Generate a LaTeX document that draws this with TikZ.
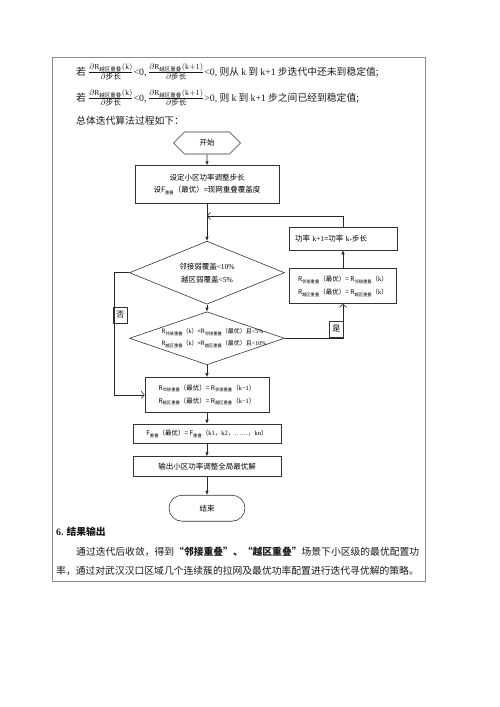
\documentclass[tikz,border=0pt]{standalone}
\usepackage{amsmath}
\usepackage{fontspec}
\setmainfont{Liberation Serif}
\newfontfamily\cjk{Noto Sans CJK SC}
\usetikzlibrary{positioning,shapes,arrows.meta}

\newcommand{\pd}[1]{{\fontsize{11}{12}\selectfont$\frac{\partial\mathrm{R}_{\text{\cjk 越区重叠}}(#1)}{\partial\text{\cjk 步长}}$}}
\newcommand{\zs}[1]{\raisebox{-.5ex}{\fontsize{4.3}{5}\cjk #1}}
\newcommand{\Rz}[1]{\textit{R}\zs{#1}}
\newcommand{\lat}[1]{{\rmfamily #1}}

\begin{document}
\begin{tikzpicture}[x=1pt,y=-1pt]
	\tikzstyle{block} = [rectangle,draw=black!80,line width=0.6pt,font=\fontsize{7.5}{10}\cjk,align=center,inner sep=2pt]
	\tikzstyle{cond} = [diamond,draw=black!80,line width=0.6pt,inner sep=0pt,aspect=2.46]
	\tikzstyle{tag} = [rectangle,draw=black!80,line width=0.5pt,font=\fontsize{8}{9}\cjk,inner sep=1.5pt,minimum width=14pt,minimum height=16pt]
	\tikzstyle{arr} = [draw=black!85,line width=0.6pt,-{Latex[length=4pt,width=3.5pt]}]
	\tikzstyle{oarr} = [draw=black!85,line width=0.6pt,-{Straight Barb[length=3pt,width=7pt]}]
	\tikzstyle{txt} = [anchor=west,inner sep=0pt,text=black!90,font=\fontsize{9.8}{12}\cjk]
	
	\useasboundingbox (0,0) rectangle (500,707);
	\draw[black!45,line width=0.7pt] (52,57) rectangle (425,581);
	
	% text above the chart
	\node[txt] (l1) at (76,72) {若\ \pd{\mathrm{k}}\lat{<0,\,}\pd{\mathrm{k}+1}\lat{<0,} 则从 \lat{k} 到 \lat{k+1} 步迭代中还未到稳定值;};
	\node[txt] (l2) at (76,98) {若\ \pd{\mathrm{k}}\lat{<0,\,}\pd{\mathrm{k}+1}\lat{>0,} 则 \lat{k} 到 \lat{k+1} 步之间已经到稳定值;};
	\node[txt] (l3) at (76,121) {总体迭代算法过程如下：};
	
	% main column
	\node[draw=black!80,line width=0.6pt,signal,signal to=west and east,signal pointer angle=90,minimum width=67pt,minimum height=22pt,font=\fontsize{7.5}{9}\cjk,inner sep=1pt] (st) at (207,143) {开始};
	\node[block,minimum width=144pt,minimum height=38pt,below=11pt of st] (set) {设定小区功率调整步长\\[2pt]设\textit{F}\zs{重叠}（最优）=现网重叠覆盖度};
	\coordinate[below=12pt of set] (jn);
	\node[cond,minimum width=155pt,minimum height=63pt,below=25pt of jn,align=center,font=\fontsize{7.5}{13}\cjk] (d1) {邻接弱覆盖\lat{<10\%}\\越区弱覆盖\lat{<5\%}};
	\node[cond,minimum width=155pt,minimum height=53pt,below=7pt of d1] (d2) {};
	\node[xshift=7pt,font=\fontsize{6}{12}\cjk,align=left,inner sep=0pt] (d2t) at (d2) {\Rz{邻接重叠}（\lat{k}）<\Rz{邻接重叠}（最优）且\lat{<5\%}\\\Rz{越区重叠}（\lat{k}）<\Rz{越区重叠}（最优）且\lat{<10\%}};
	\node[block,minimum width=124pt,minimum height=35pt,below=12pt of d2,font=\fontsize{6.5}{13}\cjk] (keep) {\Rz{邻接重叠}（最优）= \Rz{邻接重叠}（\lat{k−1}）\\\Rz{越区重叠}（最优）= \Rz{越区重叠}（\lat{k−1}）};
	\node[block,minimum width=148pt,minimum height=19pt,below=11pt of keep,font=\fontsize{6.5}{9}\cjk] (fsum) {\textit{F}\zs{重叠}（最优）= \textit{F}\zs{重叠}（\lat{k1}，\lat{k2}，……，\lat{kn}）};
	\node[block,minimum width=148pt,minimum height=20pt,below=13pt of fsum] (out) {输出小区功率调整全局最优解};
	\node[block,rounded corners=13pt,minimum width=76pt,minimum height=26pt,below=18pt of out] (fin) {结束};
	
	% right column
	\node[block,minimum width=108pt,minimum height=23pt,align=left,text width=96pt] (upd) at (343,238.5) {功率 \lat{k+1}=功率 \lat{k-}步长};
	\node[block,minimum width=107pt,minimum height=35pt,below=18pt of upd,font=\fontsize{6.5}{13}\cjk] (keepR) {\Rz{邻接重叠}（最优）= \Rz{邻接重叠}（\lat{k}）\\\Rz{越区重叠}（最优）= \Rz{越区重叠}（\lat{k}）};
	
	\draw[arr] (st) -- (set);
	\draw[line width=0.6pt,black!85] (set) -- (jn);
	\draw[arr] (jn) -- (d1);
	\draw[oarr] (upd) |- (jn);
	\draw[arr] (d1) -- (d2);
	\draw[arr] (d2) -- (keep);
	\coordinate[left=15pt of d1.west] (nob);
	\draw[oarr] (d1.west) -- (nob) |- (keep);
	\draw[oarr] (d2) -| (keepR);
	\draw[arr] (keepR) -- (upd);
	\draw[arr] (keep) -- (fsum);
	\draw[arr] (fsum) -- (out);
	\draw[arr] (out) -- (fin);
	
	\node[tag,anchor=west] (no) at (113,315) {否};
	\node[tag,anchor=south east] (yes) at (343.5,337) {是};
	
	% text below the chart
	\node[txt,font=\fontsize{9.8}{12}\cjk\bfseries] (h6) at (56,532) {\lat{6.} 结果输出};
	\node[txt] (p1) at (76,552) {通过迭代后收敛，得到{\bfseries“邻接重叠”、“越区重叠”}场景下小区级的最优配置功};
	\node[txt] (p2) at (56,571) {率，通过对武汉汉口区域几个连续簇的拉网及最优功率配置进行迭代寻优解的策略。};
\end{tikzpicture}
\end{document}
